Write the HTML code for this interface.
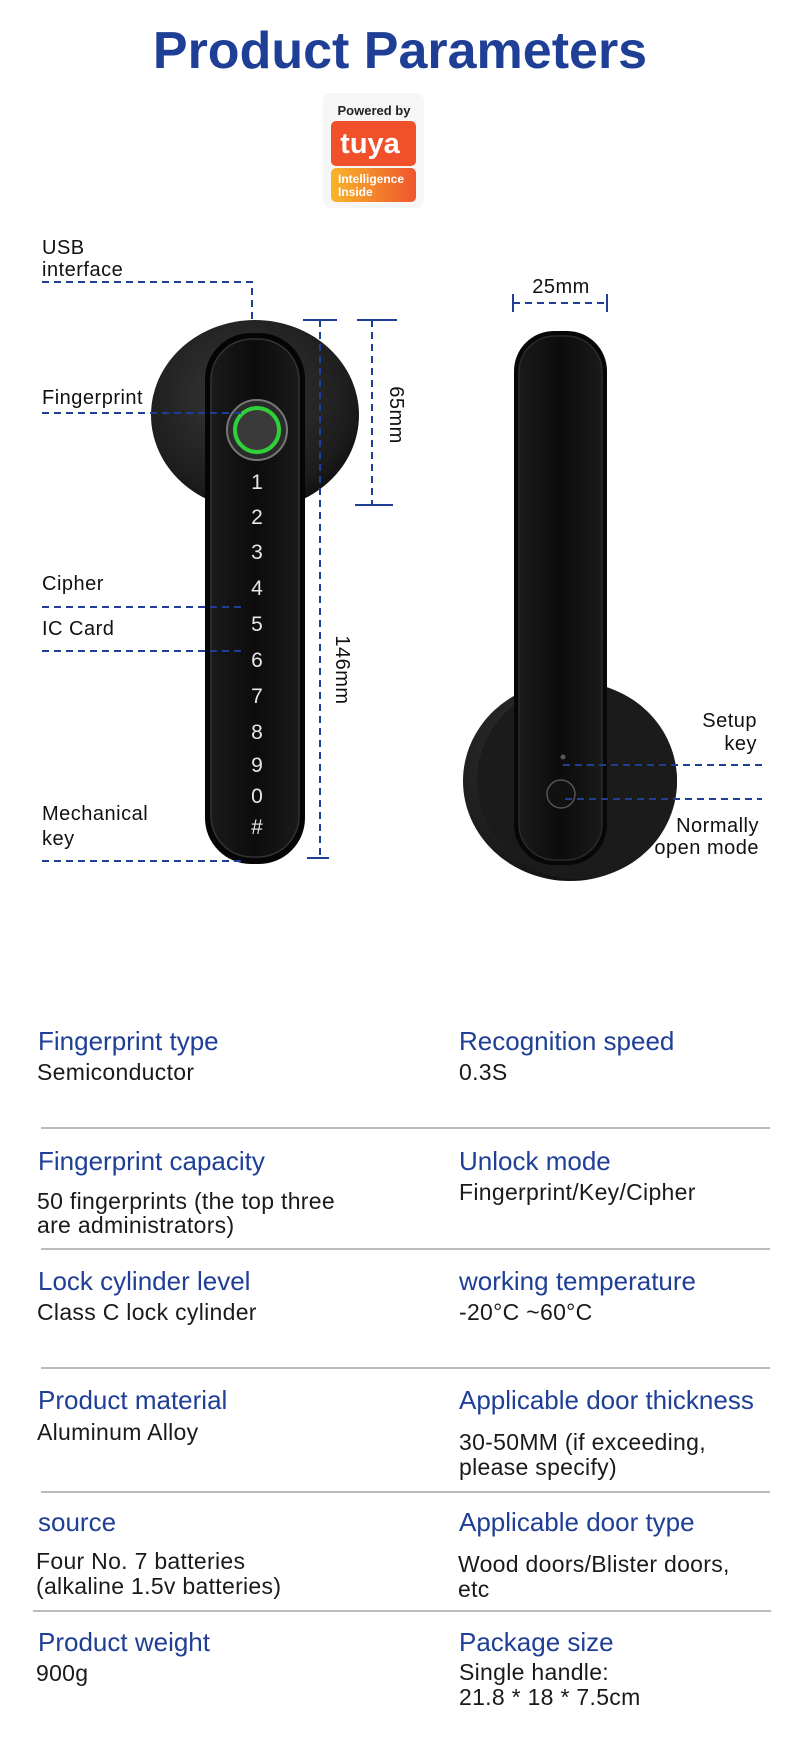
<!DOCTYPE html>
<html><head><meta charset="utf-8"><style>
html,body{margin:0;padding:0;background:#fff;width:800px;height:1758px;overflow:hidden}
svg{display:block}
text{font-family:"Liberation Sans",sans-serif}
.h{fill:#1f3f96;font-size:26px}
.v{fill:#1a1a1a;font-size:23px;letter-spacing:0.3px}
.l{fill:#111;font-size:20px;letter-spacing:0.5px}
.d{stroke:#1f3f96;stroke-width:2;stroke-dasharray:7 5;fill:none}
.s{stroke:#1f3f96;stroke-width:2;fill:none}
.n{fill:#e8e8e8;font-size:21px;text-anchor:middle}
</style></head><body>
<svg width="800" height="1758" viewBox="0 0 800 1758" xmlns="http://www.w3.org/2000/svg">
<defs>
<radialGradient id="ros" cx="0.45" cy="0.4" r="0.65"><stop offset="0" stop-color="#3a3a3a"/><stop offset="0.8" stop-color="#1c1c1c"/><stop offset="1" stop-color="#0c0c0c"/></radialGradient>
<linearGradient id="hd" x1="0" x2="1"><stop offset="0" stop-color="#1a1a1a"/><stop offset="0.5" stop-color="#0c0c0c"/><stop offset="1" stop-color="#1a1a1a"/></linearGradient>
<linearGradient id="tg" x1="0" x2="1"><stop offset="0" stop-color="#f7b52a"/><stop offset="1" stop-color="#f0552e"/></linearGradient>
</defs>
<text x="400" y="68" text-anchor="middle" style="font-size:52px;font-weight:bold;fill:#1f3f96">Product Parameters</text>
<!-- tuya -->
<rect x="323" y="93" width="101" height="115" rx="8" fill="#f6f6f6"/>
<text x="374" y="115" text-anchor="middle" style="font-size:13px;font-weight:bold;fill:#222">Powered by</text>
<rect x="331" y="121" width="85" height="45" rx="5" fill="#f0502a"/>
<text x="370" y="153" text-anchor="middle" style="font-size:29px;font-weight:bold;fill:#fff">tuya</text>
<rect x="331" y="168" width="85" height="34" rx="5" fill="url(#tg)"/>
<text x="338" y="183" style="font-size:12px;font-weight:bold;fill:#fff">Intelligence</text>
<text x="338" y="196" style="font-size:12px;font-weight:bold;fill:#fff">Inside</text>
<!-- left lock -->
<ellipse cx="255" cy="415" rx="104" ry="95" fill="url(#ros)"/>
<rect x="205" y="333" width="100" height="531" rx="46" fill="#050505"/>
<rect x="211" y="339" width="88" height="518" rx="41" fill="url(#hd)" stroke="#333" stroke-width="1.5"/>
<circle cx="257" cy="430" r="30" fill="#2b2b2b" stroke="#777" stroke-width="2"/>
<circle cx="257" cy="430" r="22" fill="#3a3a3a" stroke="#2fd03a" stroke-width="4"/>
<text class="n" x="257" y="489">1</text><text class="n" x="257" y="524">2</text><text class="n" x="257" y="559">3</text>
<text class="n" x="257" y="595">4</text><text class="n" x="257" y="631">5</text><text class="n" x="257" y="667">6</text>
<text class="n" x="257" y="703">7</text><text class="n" x="257" y="739">8</text><text class="n" x="257" y="772">9</text>
<text class="n" x="257" y="803">0</text><text class="n" x="257" y="834">#</text>
<!-- left labels -->
<text class="l" x="42" y="254">USB</text><text class="l" x="42" y="276">interface</text>
<path class="d" d="M42 282 H252 V319"/>
<text class="l" x="42" y="404">Fingerprint</text><path class="d" d="M42 413 H245"/>
<text class="l" x="42" y="590">Cipher</text><path class="d" d="M42 607 H245"/>
<text class="l" x="42" y="635">IC Card</text><path class="d" d="M42 651 H245"/>
<text class="l" x="42" y="820">Mechanical</text><text class="l" x="42" y="845">key</text><path class="d" d="M42 861 H245"/>
<!-- dims -->
<path class="s" d="M303 320 H337 M307 858 H329"/><path class="d" d="M320 320 V858"/>
<text class="l" transform="translate(336,670) rotate(90)" text-anchor="middle">146mm</text>
<path class="s" d="M357 320 H397 M355 505 H393"/><path class="d" d="M372 320 V505"/>
<text class="l" transform="translate(390,415) rotate(90)" text-anchor="middle">65mm</text>
<text class="l" x="561" y="293" text-anchor="middle">25mm</text>
<path class="s" d="M513 294 V312 M607 294 V312"/><path class="d" d="M513 303 H607"/>
<!-- right lock -->
<ellipse cx="570" cy="781" rx="107" ry="100" fill="url(#ros)"/>
<ellipse cx="577" cy="781" rx="100" ry="98" fill="#1b1b1b"/>
<rect x="514" y="331" width="93" height="534" rx="40" fill="#070707"/>
<rect x="519" y="336" width="83" height="524" rx="36" fill="url(#hd)" stroke="#2a2a2a" stroke-width="1.5"/>
<circle cx="563" cy="757" r="2.5" fill="#555"/>
<circle cx="561" cy="794" r="14" fill="#111" stroke="#555" stroke-width="1.5"/>
<text class="l" x="757" y="727" text-anchor="end">Setup</text>
<text class="l" x="757" y="750" text-anchor="end">key</text>
<path class="d" d="M563 765 H762"/><path class="d" d="M565 799 H762"/>
<text class="l" x="759" y="832" text-anchor="end">Normally</text>
<text class="l" x="759" y="854" text-anchor="end">open mode</text>
<!-- table -->
<g>
<text class="h" x="38" y="1050">Fingerprint type</text><text class="v" x="37" y="1080">Semiconductor</text>
<text class="h" x="459" y="1050">Recognition speed</text><text class="v" x="459" y="1080">0.3S</text>
<line x1="41" y1="1128" x2="770" y2="1128" stroke="#777" stroke-width="1"/>
<text class="h" x="38" y="1170">Fingerprint capacity</text>
<text class="v" x="37" y="1209">50 fingerprints (the top three</text><text class="v" x="37" y="1233">are administrators)</text>
<text class="h" x="459" y="1170">Unlock mode</text><text class="v" x="459" y="1200">Fingerprint/Key/Cipher</text>
<line x1="41" y1="1249" x2="770" y2="1249" stroke="#777" stroke-width="1"/>
<text class="h" x="38" y="1290">Lock cylinder level</text><text class="v" x="37" y="1320">Class C lock cylinder</text>
<text class="h" x="459" y="1290">working temperature</text><text class="v" x="459" y="1320">-20°C ~60°C</text>
<line x1="41" y1="1368" x2="770" y2="1368" stroke="#777" stroke-width="1"/>
<text class="h" x="38" y="1409">Product material</text><text class="v" x="37" y="1440">Aluminum Alloy</text>
<text class="h" x="459" y="1409">Applicable door thickness</text>
<text class="v" x="459" y="1450">30-50MM (if exceeding,</text><text class="v" x="459" y="1475">please specify)</text>
<line x1="41" y1="1492" x2="770" y2="1492" stroke="#777" stroke-width="1"/>
<text class="h" x="38" y="1531">source</text>
<text class="v" x="36" y="1569">Four No. 7 batteries</text><text class="v" x="36" y="1594">(alkaline 1.5v batteries)</text>
<text class="h" x="459" y="1531">Applicable door type</text>
<text class="v" x="458" y="1572">Wood doors/Blister doors,</text><text class="v" x="458" y="1597">etc</text>
<line x1="33" y1="1611" x2="771" y2="1611" stroke="#777" stroke-width="1"/>
<text class="h" x="38" y="1651">Product weight</text><text class="v" x="36" y="1681">900g</text>
<text class="h" x="459" y="1651">Package size</text>
<text class="v" x="459" y="1680">Single handle:</text><text class="v" x="459" y="1705">21.8 * 18 * 7.5cm</text>
</g>
</svg>
</body></html>
